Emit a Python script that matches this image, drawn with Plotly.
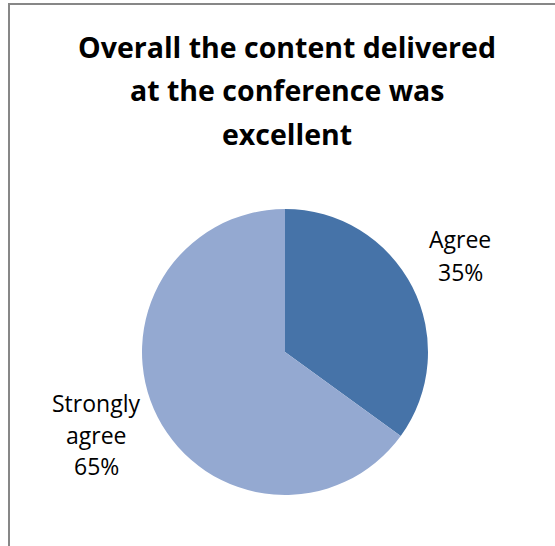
import plotly.graph_objects as go

# Survey responses
categories = ["Agree", "Strongly agree"]
shares = [35, 65]
colors = ["#4673A8", "#94A9D1"]
title_lines = ["Overall the content delivered", "at the conference was", "excellent"]

W, H = 555, 546

def px(x):
    return x / W

def py(y):
    return 1 - y / H

# Pie geometry (pixels)
cx, cy, r = 285, 352, 143

fig = go.Figure(
    go.Pie(
        labels=categories,
        values=shares,
        marker=dict(colors=colors, line=dict(width=0)),
        sort=False,
        direction="clockwise",
        rotation=0,
        textinfo="none",
        hoverinfo="label+percent",
        showlegend=False,
        domain=dict(x=[px(cx - r), px(cx + r)], y=[py(cy + r), py(cy - r)]),
    )
)

annotations = []
font_family = "'Open Sans', Lato, sans-serif"

# Title, one line per annotation
for i, line in enumerate(title_lines):
    annotations.append(dict(
        text=f"<b>{line}</b>", x=px(287), y=py(47 + 43.5 * i),
        xref="paper", yref="paper", xanchor="center", yanchor="middle",
        showarrow=False, font=dict(family=font_family, size=28.5, color="#000000"),
    ))

# Slice labels
total = sum(shares)
label_specs = {
    "Agree": dict(x=460, ys=[239, 272], words=["Agree"]),
    "Strongly agree": dict(x=96, ys=[403, 434.5, 466], words=["Strongly", "agree"]),
}
for cat, val in zip(categories, shares):
    spec = label_specs[cat]
    lines = spec["words"] + [f"{round(100 * val / total)}%"]
    for line, y in zip(lines, spec["ys"]):
        annotations.append(dict(
            text=line, x=px(spec["x"]), y=py(y),
            xref="paper", yref="paper", xanchor="center", yanchor="middle",
            showarrow=False, font=dict(family=font_family, size=23, color="#000000"),
        ))

fig.update_layout(
    width=W, height=H,
    margin=dict(l=0, r=0, t=0, b=0),
    paper_bgcolor="#FFFFFF",
    plot_bgcolor="#FFFFFF",
    annotations=annotations,
    shapes=[dict(
        type="rect", xref="paper", yref="paper",
        x0=px(9), x1=px(W + 20), y0=py(H + 20), y1=py(4),
        line=dict(color="#878787", width=2), fillcolor="rgba(0,0,0,0)",
        layer="above",
    )],
)

fig.write_html("out.html")
